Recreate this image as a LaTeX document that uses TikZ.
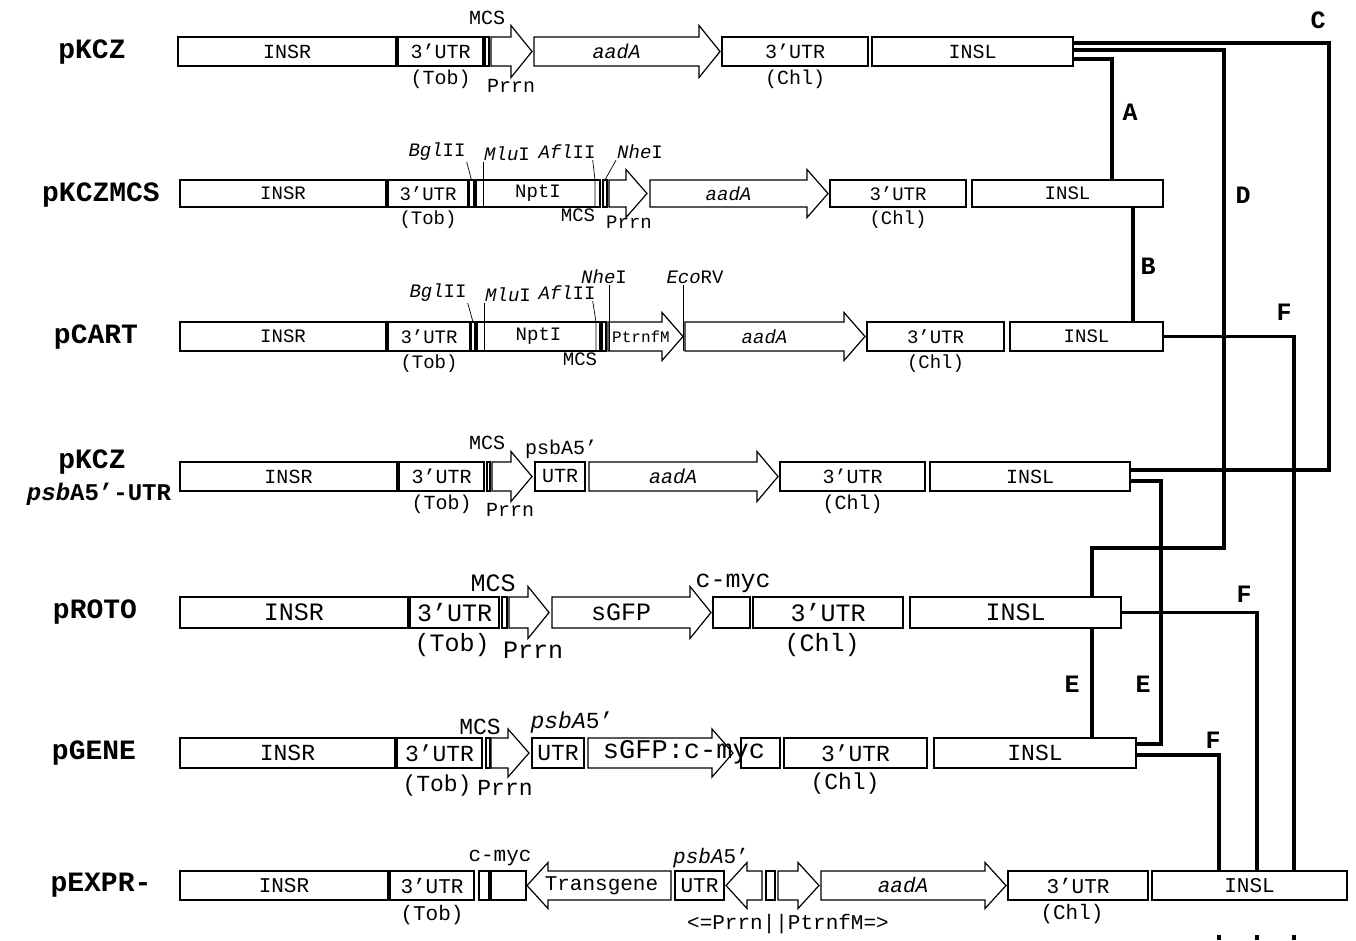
\documentclass[tikz,border=0pt]{standalone}
\usepackage{fontspec}
\setmainfont{Liberation Serif}
\setmonofont{Liberation Mono}
\usetikzlibrary{calc,positioning}

\newcommand\namefont{\fontsize{28}{30}\selectfont\ttfamily\bfseries}
\newcommand\tagfont{\fontsize{25}{27}\selectfont\ttfamily\bfseries}
\newcommand\gbox[5][]{\node[seg,#1,minimum width={#4-#3}] (#2) at (#3,\ry) {#5};}
\newcommand\rarr[4]{%
  \draw[gene] (#2,\ry-\bh/2) -- (#3-\hl,\ry-\bh/2) -- (#3-\hl,\ry-\hh)
    -- (#3,\ry) -- (#3-\hl,\ry+\hh) -- (#3-\hl,\ry+\bh/2) -- (#2,\ry+\bh/2) -- cycle;
  \node[txt] (#1) at ({(#2+#3-\hl)/2},\ry) {#4};}
\newcommand\larr[4]{%
  \draw[gene] (#2,\ry) -- (#2+\hl,\ry-\hh) -- (#2+\hl,\ry-\bh/2) -- (#3,\ry-\bh/2)
    -- (#3,\ry+\bh/2) -- (#2+\hl,\ry+\bh/2) -- (#2+\hl,\ry+\hh) -- cycle;
  \node[txt] (#1) at ({(#2+\hl+#3)/2-8},\ry) {#4};}

\begin{document}
\begin{tikzpicture}[x=1pt,y=-1pt,node distance=3pt,
  seg/.style={draw,line width=1.2pt,inner sep=0pt,outer sep=0pt,
    minimum height=\bh,anchor=west,font=\rowfont},
  gene/.style={draw,line width=1.2pt},
  txt/.style={inner sep=0pt,font=\rowfont},
  note/.style={inner sep=1pt,font=\rowfont},
  plas/.style={font=\namefont},
  tag/.style={font=\tagfont},
  site/.style={line width=.7pt},
  link/.style={line width=3.2pt}]
 \path[use as bounding box,fill=white] (0,0) rectangle (1356,940);
 \def\hl{21}

 \def\ry{51.5}\def\bh{29}\def\hh{26}
 \def\rowfont{\fontsize{20}{22}\selectfont\ttfamily}
 \node[plas] (nK) at (92,52) {pKCZ};
 \gbox{insrK}{178}{396}{INSR}
 \gbox{utrK}{398}{483}{3’UTR}
 \gbox{mcsK}{485}{489}{}
 \rarr{prrnK}{491}{532}{}
 \rarr{aadK}{534}{720}{\itshape aadA}
 \gbox{chlK}{722}{868}{3’UTR}
 \gbox{inslK}{872}{1073}{INSL}
 \node[note,below=of utrK] (tobK) {(Tob)};
 \node[note,below=of chlK] (chK) {(Chl)};
 \node[note] (msK) at (487,18) {MCS};
 \node[note] (prK) at (511,86) {Prrn};

 \def\ry{193.5}\def\bh{27}\def\hh{24}
 \def\rowfont{\fontsize{19}{21}\selectfont\ttfamily}
 \node[plas] (nM) at (101,195) {pKCZMCS};
 \gbox{insrM}{180}{386}{INSR}
 \gbox{utrM}{388}{468}{3’UTR}
 \gbox[line width=2pt]{bglM}{469}{474}{}
 \gbox{nptM}{476}{600}{NptI}
 \gbox{mcsM}{603}{607}{}
 \rarr{prrnM}{609}{647}{}
 \rarr{aadM}{650}{828}{\itshape aadA}
 \gbox{chlM}{830}{966}{3’UTR}
 \gbox{inslM}{972}{1163}{INSL}
 \node[note,below=of utrM] (tobM) {(Tob)};
 \node[note,below=of chlM] (chM) {(Chl)};
 \node[note] (msM) at (578,215) {MCS};
 \node[note] (prM) at (629,222) {Prrn};
 \node[note] (sBglM) at (437,152) {\textit{Bgl}II};
 \node[note,anchor=south west] (sMluM) at (483,162) {\textit{Mlu}I};
 \node[note] (sAflM) at (567,152) {\textit{Afl}II};
 \node[note] (sNheM) at (640,152) {\textit{Nhe}I};
 \draw[site] (sBglM.south east) -- (bglM.north);
 \draw[site] (sMluM.south west) -- (sMluM.south west |- nptM.south);
 \draw[site] ([xshift=-4pt]sAflM.south east) -- ([xshift=-5pt]nptM.north east)
   -- ([xshift=-5pt]nptM.south east);
 \draw[site] (sNheM.south west) -- (mcsM.north);

 \def\ry{336.5}\def\bh{29}\def\hh{24}
 \def\rowfont{\fontsize{19}{21}\selectfont\ttfamily}
 \node[plas] (nC) at (96,337) {pCART};
 \gbox{insrC}{180}{386}{INSR}
 \gbox{utrC}{388}{470}{3’UTR}
 \gbox[line width=2pt]{bglC}{471}{475}{}
 \gbox{nptC}{477}{600}{NptI}
 \gbox{mcsC}{602}{606}{}
 \rarr{trnC}{608}{683}{}
 \node[txt,font=\fontsize{16}{18}\selectfont\ttfamily] (trnCt) at (641,\ry) {PtrnfM};
 \rarr{aadC}{685}{865}{\itshape aadA}
 \gbox{chlC}{867}{1004}{3’UTR}
 \gbox{inslC}{1010}{1163}{INSL}
 \node[note,below=of utrC] (tobC) {(Tob)};
 \node[note,below=of chlC] (chC) {(Chl)};
 \node[note] (msC) at (580,359) {MCS};
 \node[note] (sBglC) at (438,293) {\textit{Bgl}II};
 \node[note,anchor=south west] (sMluC) at (484,303) {\textit{Mlu}I};
 \node[note] (sAflC) at (567,293) {\textit{Afl}II};
 \node[note] (sNheC) at (604,277) {\textit{Nhe}I};
 \node[note] (sEcoC) at (695,277) {\textit{Eco}RV};
 \draw[site] (sBglC.south east) -- (bglC.north);
 \draw[site] (sMluC.south west) -- (sMluC.south west |- nptC.south);
 \draw[site] ([xshift=-4pt]sAflC.south east) -- ([xshift=-4pt]nptC.north east)
   -- ([xshift=-4pt]nptC.south east);
 \draw[site] ([xshift=5pt]sNheC.south) -- ([xshift=5pt]sNheC.south |- nptC.south);
 \draw[site] ([xshift=-12pt]sEcoC.south) -- ([xshift=-12pt]sEcoC.south |- nptC.south);

 \def\ry{476.5}\def\bh{29}\def\hh{25}
 \def\rowfont{\fontsize{20}{22}\selectfont\ttfamily}
 \node[plas] (nP) at (92,462) {pKCZ};
 \node[plas,font=\fontsize{24}{26}\selectfont\ttfamily\bfseries] (nP2) at (99,494)
   {\textit{psb}A5’-UTR};
 \gbox{insrP}{180}{397}{INSR}
 \gbox{utrP}{399}{484}{3’UTR}
 \gbox{mcsP}{487}{490}{}
 \rarr{prrnP}{492}{532}{}
 \gbox{u5P}{535}{585}{UTR}
 \rarr{aadP}{589}{778}{\itshape aadA}
 \gbox{chlP}{780}{925}{3’UTR}
 \gbox{inslP}{930}{1130}{INSL}
 \node[note,below=of utrP] (tobP) {(Tob)};
 \node[note,below=of chlP] (chP) {(Chl)};
 \node[note] (msP) at (487,443) {MCS};
 \node[note] (psP) at (561,449) {psbA5’};
 \node[note] (prP) at (510,510) {Prrn};

 \def\ry{612.5}\def\bh{31}\def\hh{26}
 \def\rowfont{\fontsize{25}{27}\selectfont\ttfamily}
 \node[plas] (nR) at (95,612) {pROTO};
 \gbox{insrR}{180}{408}{INSR}
 \gbox{utrR}{410}{499}{3’UTR}
 \gbox{mcsR}{502}{507}{}
 \rarr{prrnR}{509}{549}{}
 \rarr{gfpR}{552}{711}{sGFP}
 \gbox{mycR}{713}{750}{}
 \gbox{chlR}{753}{903}{3’UTR}
 \gbox{inslR}{910}{1121}{INSL}
 \node[note] (tobR) at (452,645) {(Tob)};
 \node[note] (chR) at (822,645) {(Chl)};
 \node[note] (msR) at (493,583) {MCS};
 \node[note] (myR) at (733,583) {c-myc};
 \node[note] (prR) at (533,650) {Prrn};

 \def\ry{753}\def\bh{30}\def\hh{24}
 \def\rowfont{\fontsize{23}{25}\selectfont\ttfamily}
 \node[plas] (nG) at (94,753) {pGENE};
 \gbox{insrG}{180}{395}{INSR}
 \gbox{utrG}{397}{482}{3’UTR}
 \gbox{mcsG}{486}{490}{}
 \rarr{prrnG}{491}{529}{}
 \gbox{u5G}{532}{584}{UTR}
 \rarr{gfpG}{588}{733}{}
 \gbox{mycG}{741}{780}{}
 \node[txt,font=\fontsize{27}{29}\selectfont\ttfamily] (gfpGt) at (684,752) {sGFP:c-myc};
 \gbox{chlG}{784}{927}{3’UTR}
 \gbox{inslG}{934}{1136}{INSL}
 \node[note] (tobG) at (437,786) {(Tob)};
 \node[note] (chG) at (845,784) {(Chl)};
 \node[note] (msG) at (480,727) {MCS};
 \node[note] (psG) at (572,723) {\textit{psbA}5’};
 \node[note] (prG) at (505,788) {Prrn};

 \def\ry{885.5}\def\bh{29}\def\hh{23}
 \def\rowfont{\fontsize{21}{23}\selectfont\ttfamily}
 \node[plas] (nE) at (101,885) {pEXPR-};
 \gbox{insrE}{180}{388}{INSR}
 \gbox{utrE}{390}{474}{3’UTR}
 \gbox{sepE}{479}{489}{}
 \gbox{mycE}{491}{526}{}
 \larr{tgE}{527}{671}{Transgene}
 \gbox{u5E}{675}{724}{UTR}
 \larr{prrnE}{726}{762}{}
 \gbox{sepE2}{766}{775}{}
 \rarr{trnE}{778}{819}{}
 \rarr{aadE}{821}{1006}{\itshape aadA}
 \gbox{chlE}{1008}{1148}{3’UTR}
 \gbox{inslE}{1152}{1347}{INSL}
 \node[note] (tobE) at (432,915) {(Tob)};
 \node[note] (chE) at (1072,914) {(Chl)};
 \node[note] (myE) at (500,858) {c-myc};
 \node[note] (psE) at (711,858) {\textit{psbA}5’};
 \node[note] (dirE) at (788,924) {<=Prrn||PtrnfM=>};

 \coordinate (colA) at (1112,0);
 \coordinate (colB) at (1133,0);
 \coordinate (colC) at (1329,250);
 \coordinate (colD) at (1224,548);
 \coordinate (colE) at (1092,0);
 \coordinate (colE2) at (1161,600);
 \coordinate (colF1) at (1294,0);
 \coordinate (colF2) at (1257,0);
 \coordinate (colF3) at (1219,0);
 \draw[link] ($(inslK.north east)+(0,22)$) -| (colA |- inslM.north);
 \draw[link] (colB |- inslM.south) -- (colB |- inslC.north);
 \draw[link] ($(inslK.north east)+(0,6)$) -| (colC) |- ($(inslP.north east)+(0,8)$);
 \draw[link] ($(inslK.north east)+(0,13)$) -| (colD) -| (colE |- inslR.north);
 \draw[link] (colE |- inslR.south) -- (colE |- inslG.north);
 \draw[link] ($(inslP.north east)+(0,19)$) -| (colE2) |- ($(inslG.north east)+(0,6)$);
 \draw[link] (inslC.east) -| (colF1 |- inslE.north);
 \draw[link] (inslR.east) -| (colF2 |- inslE.north);
 \draw[link] ($(inslG.north east)+(0,17)$) -| (colF3 |- inslE.north);
 \foreach \x in {1219,1257,1294} \draw[link] (\x,935) -- (\x,940);

 \node[tag] (tA) at (1130,112) {A};
 \node[tag] (tB) at (1148,266) {B};
 \node[tag] (tC) at (1318,20) {C};
 \node[tag] (tD) at (1243,195) {D};
 \node[tag] (tE1) at (1072,684) {E};
 \node[tag] (tE2) at (1143,684) {E};
 \node[tag] (tF1) at (1284,312) {F};
 \node[tag] (tF2) at (1244,594) {F};
 \node[tag] (tF3) at (1213,740) {F};
\end{tikzpicture}
\end{document}
